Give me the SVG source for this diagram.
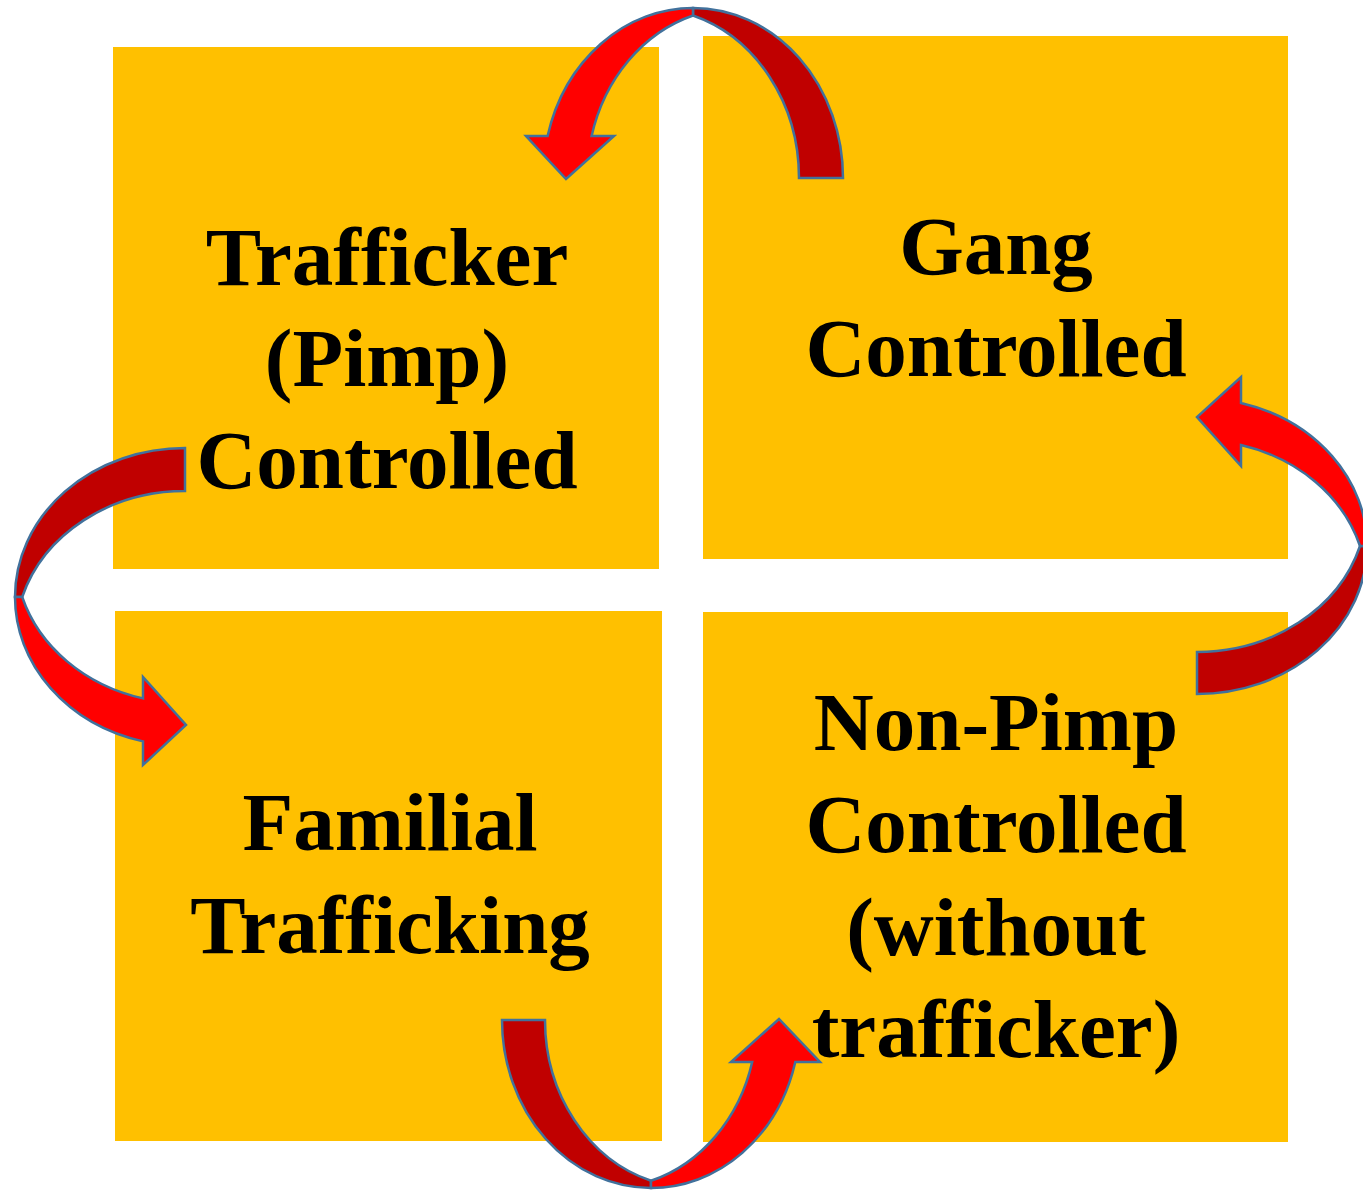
<svg xmlns="http://www.w3.org/2000/svg" width="1363" height="1191" viewBox="0 0 1363 1191">
<style>
.box{fill:#FFC000}
.lbl{font-family:"Liberation Serif","Times New Roman",serif;font-weight:bold;font-size:83px;fill:#000;text-anchor:middle}
.back{fill:#C00000;stroke:#41719C;stroke-width:2.5;stroke-linejoin:miter}
.front{fill:#FF0000;stroke:#41719C;stroke-width:2.5;stroke-linejoin:miter}
</style>
<rect width="1363" height="1191" fill="#fff"/>
<g id="node-trafficker">
<rect class="box" x="113" y="47" width="546" height="522"/>
<text class="lbl" x="387" y="285">Trafficker</text>
<text class="lbl" x="387" y="386">(Pimp)</text>
<text class="lbl" x="387" y="488">Controlled</text>
</g>
<g id="node-gang">
<rect class="box" x="703" y="36" width="585" height="523"/>
<text class="lbl" x="996" y="274">Gang</text>
<text class="lbl" x="996" y="376">Controlled</text>
</g>
<g id="node-familial">
<rect class="box" x="115" y="611" width="547" height="530"/>
<text class="lbl" x="390" y="850">Familial</text>
<text class="lbl" x="390" y="953">Trafficking</text>
</g>
<g id="node-nonpimp">
<rect class="box" x="703" y="612" width="585" height="530"/>
<text class="lbl" x="996" y="750">Non-Pimp</text>
<text class="lbl" x="996" y="852">Controlled</text>
<text class="lbl" x="996" y="955">(without</text>
<text class="lbl" x="996" y="1057">trafficker)</text>
</g>
<g id="connectors">
<g id="arrow-gang-to-trafficker">
<path class="back" d="M843,178 A150,170 0 0 0 693,8 L693,15.5 A150,170 0 0 1 799,178 Z"/>
<path class="front" d="M693,8 A150,170 0 0 0 547.6,136 L526,136 L566,179 L614,136 L591.6,136 A150,170 0 0 1 693,15.5 Z"/>
</g>
<g id="arrow-trafficker-to-familial">
<path class="back" d="M185,448 A170,149 0 0 0 15,597 L22.2,597 A170,149 0 0 1 185,491 Z"/>
<path class="front" d="M15,597 A170,149 0 0 0 143,741.4 L143,765 L186,725 L143,677 L143,698.4 A170,149 0 0 1 22.2,597 Z"/>
</g>
<g id="arrow-familial-to-nonpimp">
<path class="back" d="M502,1020 A149,168 0 0 0 651,1188 L651,1180.8 A149,168 0 0 1 545,1020 Z"/>
<path class="front" d="M651,1188 A149,168 0 0 0 795.3,1062 L820,1062 L779,1019 L731,1062 L752.2,1062 A149,168 0 0 1 651,1180.8 Z"/>
</g>
<g id="arrow-nonpimp-to-gang">
<path class="back" d="M1197,694 A170,148 0 0 0 1367,546 L1360,546 A170,148 0 0 1 1197,652 Z"/>
<path class="front" d="M1367,546 A170,148 0 0 0 1241,403 L1241,377 L1197,417 L1241,466 L1241,445 A170,148 0 0 1 1360,546 Z"/>
</g>
</g>
</svg>
